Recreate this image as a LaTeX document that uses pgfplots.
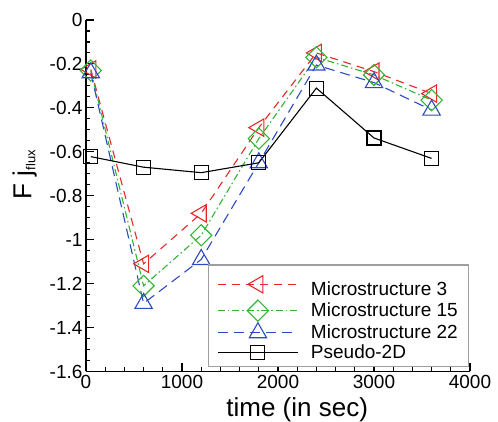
\documentclass[border=0pt]{standalone}
\usepackage{pgfplots}
\pgfplotsset{compat=1.18}
\usepackage{fontspec}
\setmainfont{Liberation Sans}
\definecolor{cred}{RGB}{232,40,40}
\definecolor{cgreen}{RGB}{50,180,50}
\definecolor{cblue}{RGB}{45,75,190}
\begin{document}
\begin{tikzpicture}
\useasboundingbox (0pt,0pt) rectangle (498pt,422pt);
\begin{axis}[
  at={(86pt,50.5pt)}, anchor=south west,
  scale only axis, width=384pt, height=351.5pt,
  xmin=0, xmax=4000, ymin=-1.6, ymax=0,
  axis x line*=bottom, axis y line*=left,
  axis line style={line width=1.6pt, black},
  tick align=inside, major tick length=8pt, minor tick length=4pt,
  every tick/.style={black, line width=1.1pt},
  xtick={0,1000,2000,3000,4000},
  xticklabels={0,1000,2000,3000,4000},
  minor x tick num=4,
  ytick={-1.6,-1.4,-1.2,-1,-0.8,-0.6,-0.4,-0.2,0},
  yticklabels={-1.6,-1.4,-1.2,-1,-0.8,-0.6,-0.4,-0.2,0},
  minor y tick num=3,
  ticklabel style={font=\fontsize{19}{19}\selectfont},
  xlabel={time (in sec)},
  ylabel={F j\raisebox{-0.3ex}{\fontsize{13}{13}\selectfont flux}},
  xlabel style={font=\fontsize{26}{26}\selectfont, at={(axis description cs:0.55,-0.11)}, anchor=center},
  ylabel style={font=\fontsize{26}{26}\selectfont, at={(axis description cs:-0.16,0.56)}, anchor=center},
  clip=false,
  legend cell align=left,
  legend image code/.code={\draw[mark repeat=2,mark phase=2] plot coordinates {(0pt,0pt) (40pt,0pt) (80pt,0pt)};},
  legend style={at={(axis description cs:0.997,0.012)}, anchor=south east,
    draw=gray!75, line width=1.2pt, font=\fontsize{19}{21}\selectfont,
    row sep=1.5pt, inner xsep=9pt, inner ysep=5pt,
    nodes={inner sep=1.5pt}},
]
\addplot[cred, line width=1.1pt, dash pattern=on 8pt off 6pt, mark=triangle, mark size=10pt,
  mark options={solid, rotate=90, line width=1.1pt}]
  coordinates {(50,-0.225) (600,-1.11) (1200,-0.88) (1800,-0.49) (2400,-0.15) (3000,-0.235) (3600,-0.335)};
\addlegendentry{\hspace{11pt}\rule{0pt}{24pt}Microstructure 3}
\addplot[cgreen, line width=1.1pt, dash pattern=on 7pt off 3pt on 1.5pt off 3pt, mark=square, mark size=7.5pt,
  mark options={solid, rotate=45, line width=1.1pt}]
  coordinates {(50,-0.23) (600,-1.21) (1200,-0.98) (1800,-0.54) (2400,-0.17) (3000,-0.25) (3600,-0.365)};
\addlegendentry{\hspace{11pt}Microstructure 15}
\addplot[cblue, line width=1.1pt, dash pattern=on 10pt off 6pt, mark=triangle, mark size=10pt,
  mark options={solid, line width=1.1pt}]
  coordinates {(50,-0.24) (600,-1.29) (1200,-1.09) (1800,-0.65) (2400,-0.205) (3000,-0.285) (3600,-0.41)};
\addlegendentry{\hspace{11pt}Microstructure 22}
\addplot[black, line width=1.1pt, solid, mark=square, mark size=7pt,
  mark options={solid, line width=1.1pt}]
  coordinates {(50,-0.622) (600,-0.67) (1200,-0.695) (1800,-0.65) (2400,-0.31) (3000,-0.537) (3600,-0.63)};
\addlegendentry{\hspace{11pt}Pseudo-2D}
\end{axis}
\end{tikzpicture}
\end{document}
